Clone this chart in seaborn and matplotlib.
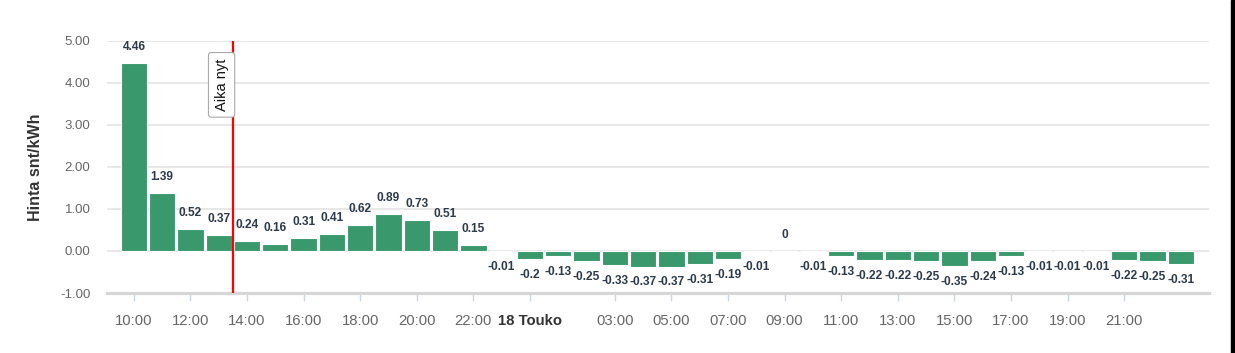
import matplotlib
matplotlib.use("Agg")
import matplotlib.pyplot as plt
import seaborn as sns
import pandas as pd
from matplotlib.patches import Rectangle

# ---- data ----
hours = [10, 11, 12, 13, 14, 15, 16, 17, 18, 19, 20, 21, 22, 23,
         0, 1, 2, 3, 4, 5, 6, 7, 8, 9, 10, 11, 12, 13, 14, 15, 16, 17, 18, 19, 20, 21, 22, 23]
prices = [4.46, 1.39, 0.52, 0.37, 0.24, 0.16, 0.31, 0.41, 0.62, 0.89, 0.73, 0.51, 0.15, -0.01,
          -0.2, -0.13, -0.25, -0.33, -0.37, -0.37, -0.31, -0.19, -0.01, 0, -0.01, -0.13, -0.22,
          -0.22, -0.25, -0.35, -0.24, -0.13, -0.01, -0.01, -0.01, -0.22, -0.25, -0.31]
tick_pos = [0, 2, 4, 6, 8, 10, 12, 14, 17, 19, 21, 23, 25, 27, 29, 31, 33, 35]
tick_labels = ["10:00", "12:00", "14:00", "16:00", "18:00", "20:00", "22:00", "18 Touko",
               "03:00", "05:00", "07:00", "09:00", "11:00", "13:00", "15:00", "17:00", "19:00", "21:00"]
y_ticks = [-1, 0, 1, 2, 3, 4, 5]
now_pos = 3.5
now_label = "Aika nyt"
y_label = "Hinta snt/kWh"

sns.set_theme(style="white")
plt.rcParams['font.family'] = ['Liberation Sans', 'DejaVu Sans']

df = pd.DataFrame({"slot": list(range(len(prices))), "price": prices})

fig = plt.figure(figsize=(12.35, 3.53), dpi=100)
ax = fig.add_axes([107 / 1235, 1 - 293 / 353, 1102 / 1235, (293 - 40.7) / 353])

sns.barplot(data=df, x="slot", y="price", color="#3a996c", saturation=1, width=0.93,
            edgecolor="white", linewidth=0.8, ax=ax, zorder=3)

ax.set_xlim(-0.95, 38.0)
ax.set_ylim(-1, 5)

# grid
for yv in y_ticks:
    if yv == -1:
        continue
    ax.axhline(yv, color="#e6e6e6", lw=1.3, zorder=0)
for s in ["top", "right", "left"]:
    ax.spines[s].set_visible(False)
ax.spines["bottom"].set_color("#d6d6d6")
ax.spines["bottom"].set_linewidth(2.3)

ax.set_yticks(y_ticks)
ax.set_yticklabels([f"{v:.2f}" for v in y_ticks], color="#666666", fontsize=9.5)
ax.tick_params(axis="y", length=0, pad=12)

ax.set_xticks(tick_pos)
ax.set_xticklabels(tick_labels, color="#666666", fontsize=10.7)
ax.tick_params(axis="x", length=6, width=1, color="#ccd6eb", pad=9, direction="out", bottom=True)
for lbl in ax.get_xticklabels():
    if lbl.get_text() == "18 Touko":
        lbl.set_fontweight("bold")
        lbl.set_color("#333333")

ax.set_xlabel("")
ax.set_ylabel(y_label, fontsize=11.5, fontweight="bold", color="#333333")
ax.yaxis.set_label_coords(-0.058, 0.5)

# data labels
for i, v in enumerate(prices):
    off = 11.5 if v >= 0 else -11.5
    ax.annotate(f"{v:g}", xy=(i, v), xytext=(0, off), textcoords="offset points",
                ha="center", va="center", fontsize=8.6, fontweight="bold", color="#2c3a4a", zorder=5)

# now line
ax.axvline(now_pos, color="red", lw=1.6, zorder=6)
ax.text(now_pos - 0.4, 3.95, now_label, rotation=90, ha="center", va="center", fontsize=10.5,
        color="#111111", zorder=7,
        bbox=dict(boxstyle="round,pad=0.42,rounding_size=0.2", fc="white", ec="#aaaaaa", lw=0.8))

# right dark border of the screenshot
fig.patches.append(Rectangle((1231 / 1235, 0), 4 / 1235, 1, transform=fig.transFigure,
                             color="black", zorder=10))

fig.savefig("out.png", dpi=100)
